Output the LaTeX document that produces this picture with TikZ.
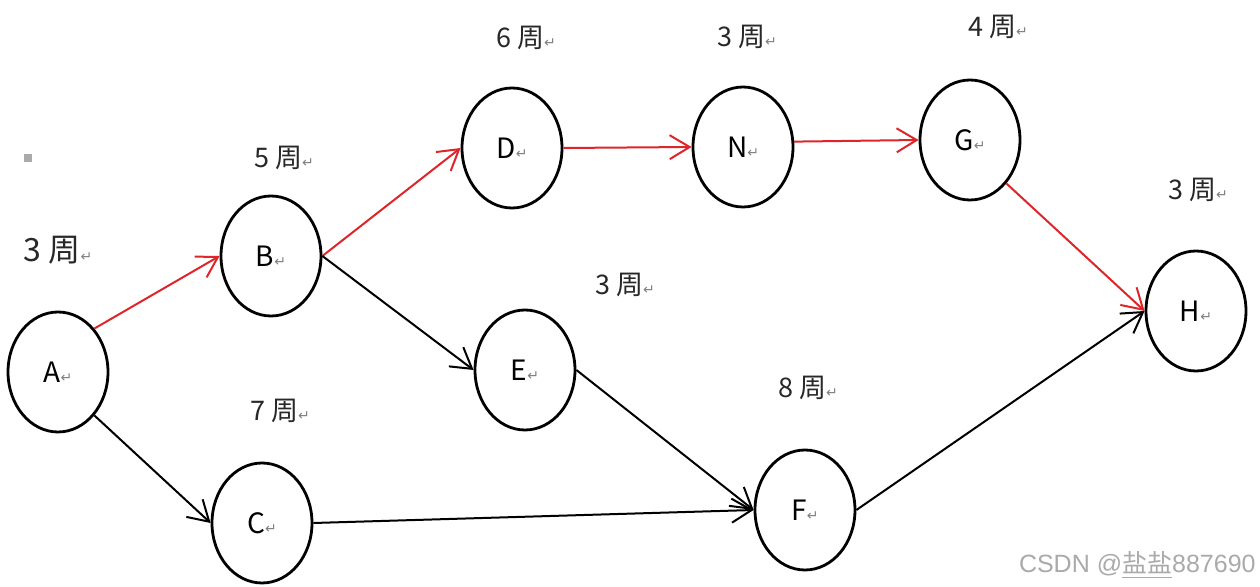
\documentclass[tikz,border=0pt]{standalone}
\usepackage{fontspec}
\setmainfont{Noto Sans CJK SC}
\newfontfamily\symf{DejaVu Sans}
\newfontfamily\wmf{Liberation Sans}
\usetikzlibrary{arrows.meta,shapes.geometric}
\definecolor{edgered}{RGB}{222,38,42}
\definecolor{labgray}{RGB}{40,40,40}
\definecolor{wmgray}{RGB}{170,170,170}
\newcommand\retmk{{\symf\fontsize{7}{7}\selectfont\color{gray}↵}}
\tikzset{
  ev/.style={draw=black, line width=1.4pt, ellipse, minimum width=50pt, minimum height=60pt, inner sep=0pt, fill=white, font=\fontsize{14}{14}\selectfont},
  lab/.style={text=labgray, font=\fontsize{13.5}{13.5}\selectfont, inner sep=0pt},
  arr/.style={line width=1pt, -{Straight Barb[length=10pt,width=12pt,line width=1pt]}},
  crit/.style={arr, draw=edgered},
  norm/.style={arr, draw=black}
}
\begin{document}
\begin{tikzpicture}[x=0.5pt,y=-0.5pt]
\useasboundingbox (0,0) rectangle (1260,587);
\fill[white] (0,0) rectangle (1260,587);
\fill[wmgray] (24,154) rectangle (32,162);
% nodes
\node[ev] (A) at (58,372) {A\retmk};
\node[ev] (B) at (271,256) {B\retmk};
\node[ev] (C) at (262,523) {C\retmk};
\node[ev] (D) at (512,148) {D\retmk};
\node[ev] (E) at (525,370) {E\retmk};
\node[ev] (N) at (743,147) {N\retmk};
\node[ev] (G) at (970,140) {G\retmk};
\node[ev] (H) at (1196,311) {H\retmk};
\node[ev] (F) at (805,510) {F\retmk};
% labels
\node[lab, font=\fontsize{16}{16}\selectfont] (l1) at (58,250) {3 周\retmk};
\node[lab] (l2) at (284,158) {5 周\retmk};
\node[lab] (l3) at (526,38) {6 周\retmk};
\node[lab] (l4) at (747,37) {3 周\retmk};
\node[lab] (l5) at (998,27) {4 周\retmk};
\node[lab] (l6) at (1198,190) {3 周\retmk};
\node[lab] (l7) at (625,285) {3 周\retmk};
\node[lab] (l8) at (808,388) {8 周\retmk};
\node[lab] (l9) at (280,411) {7 周\retmk};
% edges
\draw[crit] (A.north east) -- (B.west);
\draw[crit] (B.east) -- (D.west);
\draw[crit] (D.east) -- (N.west);
\draw[crit] (N.6) -- (G.west);
\draw[crit] (G.south east) -- (H.west);
\draw[norm] (A.south east) -- (C.west);
\draw[norm] (B.east) -- (E.west);
\draw[norm] (E.east) -- (F.west);
\draw[norm] (C.east) -- (F.west);
\draw[norm] (F.east) -- (H.west);
% watermark
\node[anchor=east, text=wmgray, font=\fontsize{12.5}{12.5}\selectfont, inner sep=0pt] (wm) at (1256,565) {{\wmf CSDN @}\underline{盐盐}{\wmf 887690}};
\end{tikzpicture}
\end{document}
